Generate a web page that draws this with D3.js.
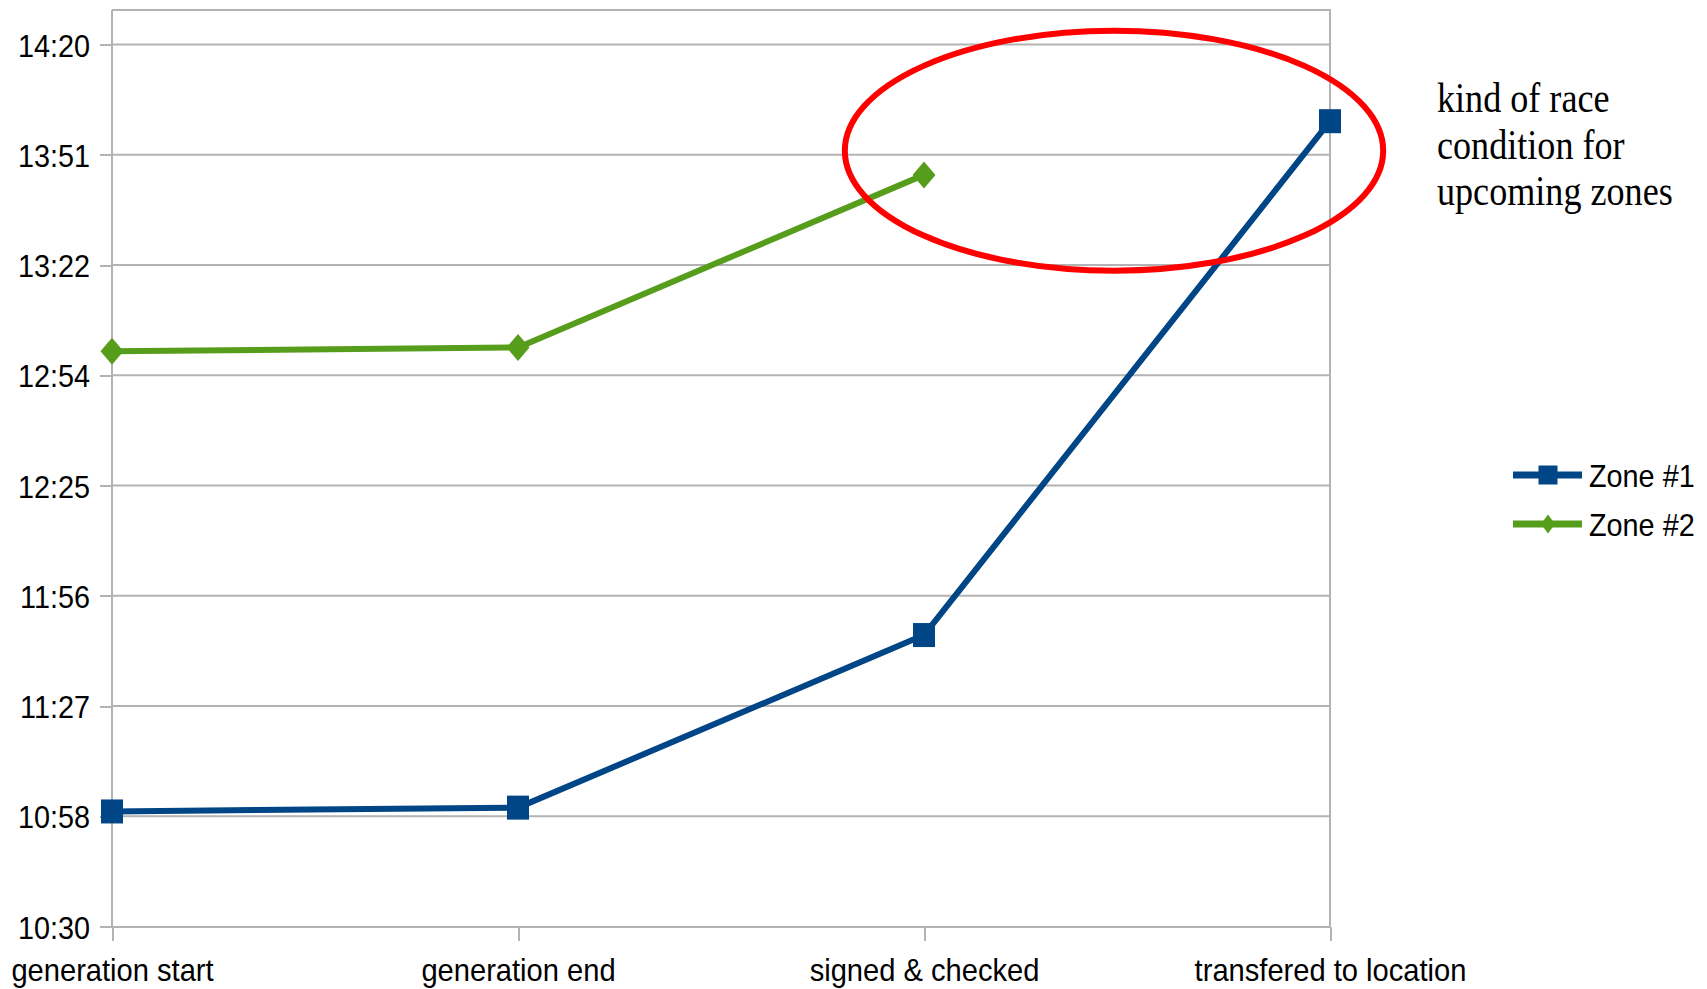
<!DOCTYPE html>
<html>
<head>
<meta charset="utf-8">
<script src="https://cdn.jsdelivr.net/npm/d3@7"></script>
<style>
  html, body { margin: 0; padding: 0; background: #ffffff; }
  svg { display: block; }
</style>
</head>
<body>
<svg id="chart" width="1707" height="989"></svg>
<script>
// Process stages along the x axis
const stages = ["generation start", "generation end", "signed & checked", "transfered to location"];

// Clock times (HH:MM) per stage; null where a stage was not reached
const zone1Times = ["11:00", "11:01", "11:46", "14:00"];
const zone2Times = ["13:00", "13:01", "13:46", null];

const seriesNames = ["Zone #1", "Zone #2"];
const seriesColors = ["#004586", "#579d1c"];

// Value axis: minutes since midnight and the labels shown for them
const yTickMinutes = [630, 658.75, 687.5, 716.25, 745, 773.75, 802.5, 831.25, 860];
const yTickLabels = ["10:30", "10:58", "11:27", "11:56", "12:25", "12:54", "13:22", "13:51", "14:20"];

const noteLines = ["kind of race", "condition for", "upcoming zones"];

const toMinutes = s => {
  if (s == null) return null;
  const [h, m] = s.split(":").map(Number);
  return h * 60 + m;
};

const series = [zone1Times, zone2Times].map((times, i) => ({
  name: seriesNames[i],
  color: seriesColors[i],
  shape: i === 0 ? "square" : "diamond",
  points: times.map((t, j) => ({ stage: stages[j], v: toMinutes(t) })).filter(p => p.v != null)
}));

const svg = d3.select("#chart");
const plot = { left: 112, right: 1330, top: 10, bottom: 926.5 };
const fontSans = "'Liberation Sans', Arial, sans-serif";
const squeeze = 0.9;     // narrow text width used throughout the chart
const gridColor = "#b3b3b3";

const x = d3.scalePoint().domain(stages).range([plot.left, plot.right]).padding(0);
const y = d3.scaleLinear().domain([yTickMinutes[0], yTickMinutes[yTickMinutes.length - 1]])
  .range([plot.bottom, 44.5]);

// Horizontal gridlines
svg.append("g").selectAll("line").data(yTickMinutes.slice(1)).join("line")
  .attr("x1", plot.left).attr("x2", plot.right)
  .attr("y1", d => y(d)).attr("y2", d => y(d))
  .attr("stroke", gridColor).attr("stroke-width", 2);

// Plot frame (top and right edges)
svg.append("path")
  .attr("d", `M${plot.left},${plot.top}H${plot.right}V${plot.bottom}`)
  .attr("fill", "none").attr("stroke", gridColor).attr("stroke-width", 2);

// Y axis
const yAxis = svg.append("g").attr("transform", `translate(${plot.left},0)`)
  .call(d3.axisLeft(y).tickValues(yTickMinutes).tickSize(12).tickPadding(0)
    .tickFormat((d, i) => yTickLabels[i]));
yAxis.select(".domain").attr("stroke", gridColor).attr("stroke-width", 2)
  .attr("d", `M0,${plot.top}V${plot.bottom}`);
yAxis.selectAll(".tick line").attr("stroke", gridColor).attr("stroke-width", 2);
yAxis.selectAll(".tick text")
  .attr("x", null).attr("dy", null)
  .attr("transform", `translate(-22,0) scale(${squeeze},1)`)
  .attr("dy", "0.36em")
  .attr("text-anchor", "end")
  .attr("font-family", fontSans).attr("font-size", 32).attr("fill", "#000");

// X axis
const xAxis = svg.append("g").attr("transform", `translate(0,${plot.bottom})`)
  .call(d3.axisBottom(x).tickSize(14).tickPadding(0));
xAxis.select(".domain").attr("stroke", gridColor).attr("stroke-width", 2)
  .attr("d", `M${plot.left - 12},0H${plot.right}`);
xAxis.selectAll(".tick line").attr("stroke", gridColor).attr("stroke-width", 2);
xAxis.selectAll(".tick text")
  .attr("y", null).attr("dy", null)
  .attr("transform", `translate(0,54) scale(0.91,1)`)
  .attr("text-anchor", "middle")
  .attr("font-family", fontSans).attr("font-size", 32).attr("fill", "#000");
svg.selectAll(".domain, .tick line").attr("shape-rendering", "crispEdges");

// Marker shapes
function drawMarker(g, shape, color, w, h) {
  if (shape === "square") {
    g.append("rect").attr("x", -w / 2).attr("y", -h / 2).attr("width", w).attr("height", h)
      .attr("fill", color);
  } else {
    g.append("path").attr("d", `M0,${-h / 2}L${w / 2},0L0,${h / 2}L${-w / 2},0Z`).attr("fill", color);
  }
}

// Series lines and markers
const line = d3.line().x(d => x(d.stage)).y(d => y(d.v));
series.forEach(s => {
  svg.append("path").datum(s.points)
    .attr("d", line)
    .attr("fill", "none").attr("stroke", s.color).attr("stroke-width", 6)
    .attr("stroke-linejoin", "round");
  s.points.forEach(p => {
    const g = svg.append("g").attr("transform", `translate(${x(p.stage)},${y(p.v)})`);
    if (s.shape === "square") drawMarker(g, "square", s.color, 22, 24);
    else drawMarker(g, "diamond", s.color, 23, 27);
  });
});

// Callout ellipse around the late stages
const step = x.step();
svg.append("ellipse")
  .attr("cx", x(stages[2]) + 0.468 * step)
  .attr("cy", y(832.3))
  .attr("rx", 0.663 * step)
  .attr("ry", 120)
  .attr("fill", "none").attr("stroke", "#ff0000").attr("stroke-width", 6);

// Callout note
const note = svg.append("g").attr("transform", "translate(1437,0)");
noteLines.forEach((t, i) => {
  note.append("text")
    .attr("transform", `translate(0,${112 + i * 46.5}) scale(0.85,1)`)
    .attr("font-family", "'Liberation Serif', 'Times New Roman', serif")
    .attr("font-size", 42.5).attr("fill", "#000")
    .text(t);
});

// Legend
const legend = svg.append("g");
series.forEach((s, i) => {
  const ly = 475 + i * 49;
  const g = legend.append("g").attr("transform", `translate(1513,${ly})`);
  g.append("line").attr("x1", 0).attr("x2", 69).attr("y1", 0).attr("y2", 0)
    .attr("stroke", s.color).attr("stroke-width", 7);
  const m = g.append("g").attr("transform", "translate(35,0)");
  if (s.shape === "square") drawMarker(m, "square", s.color, 19, 19);
  else drawMarker(m, "diamond", s.color, 14, 19);
  g.append("text")
    .attr("transform", `translate(76,0) scale(${squeeze},1)`)
    .attr("dy", "0.36em")
    .attr("font-family", fontSans).attr("font-size", 32).attr("fill", "#000")
    .text(s.name);
});
</script>
</body>
</html>
